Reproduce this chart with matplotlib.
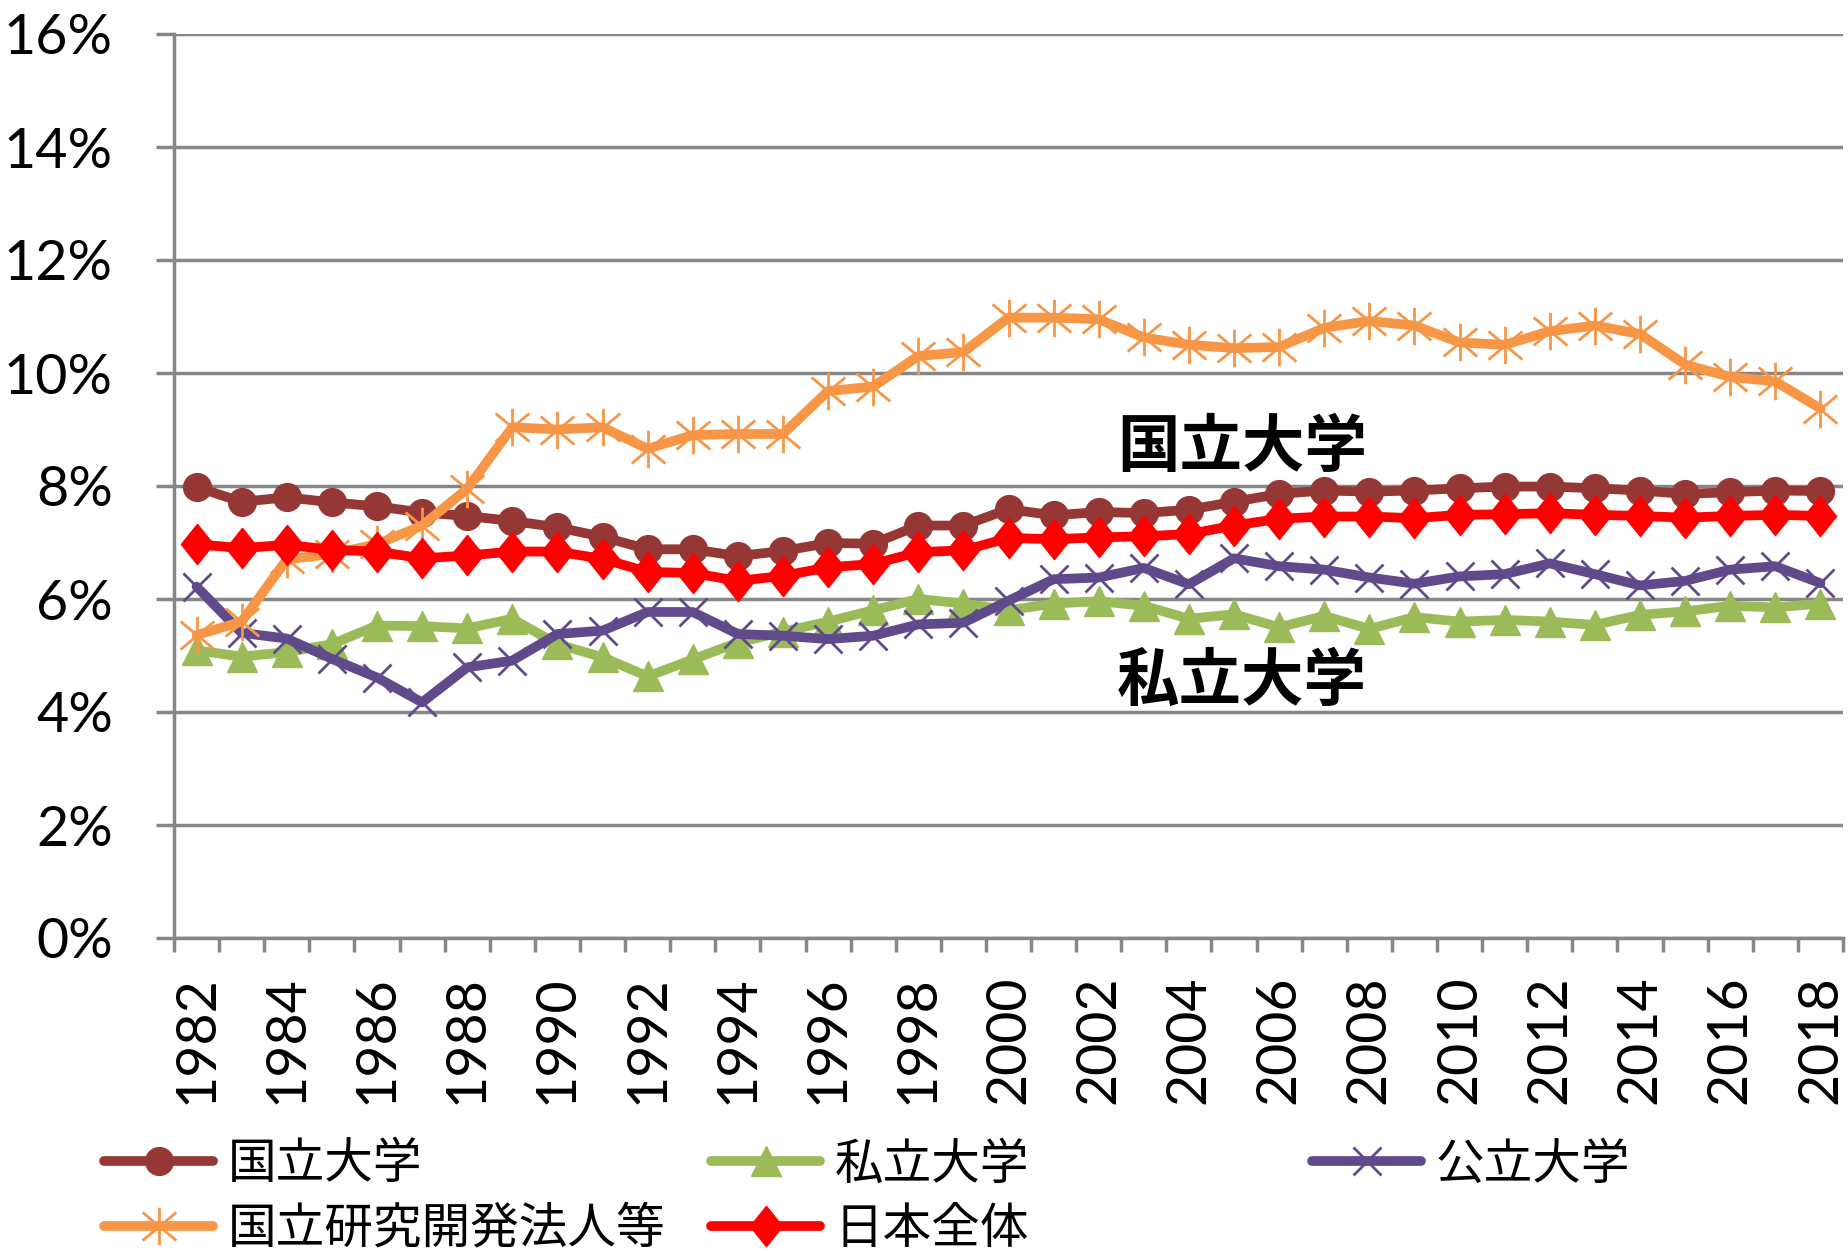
import numpy as np
import matplotlib
matplotlib.use('Agg')
import matplotlib.pyplot as plt
from matplotlib.path import Path

plt.rcParams['font.family'] = ['Lato', 'Noto Sans CJK JP', 'DejaVu Sans']

# data (percent)
years = list(range(1982, 2019))
national = [7.98, 7.72, 7.80, 7.71, 7.64, 7.53, 7.47, 7.38, 7.27, 7.10,
            6.88, 6.88, 6.76, 6.85, 6.99, 6.98, 7.30, 7.30, 7.59, 7.48,
            7.54, 7.52, 7.58, 7.72, 7.86, 7.92, 7.90, 7.92, 7.96, 7.99,
            7.99, 7.96, 7.92, 7.86, 7.89, 7.92, 7.91]
private = [5.09, 4.98, 5.06, 5.20, 5.53, 5.52, 5.48, 5.65, 5.20, 4.97,
           4.63, 4.93, 5.23, 5.42, 5.60, 5.80, 6.00, 5.92, 5.80, 5.92,
           5.96, 5.88, 5.65, 5.73, 5.50, 5.70, 5.47, 5.68, 5.60, 5.63,
           5.60, 5.54, 5.72, 5.78, 5.88, 5.85, 5.92]
public = [6.22, 5.40, 5.30, 4.94, 4.61, 4.17, 4.79, 4.91, 5.38, 5.44,
          5.77, 5.77, 5.38, 5.35, 5.29, 5.35, 5.55, 5.58, 5.97, 6.35,
          6.38, 6.55, 6.26, 6.72, 6.58, 6.52, 6.38, 6.27, 6.40, 6.44,
          6.63, 6.44, 6.24, 6.32, 6.52, 6.58, 6.28]
research = [5.36, 5.60, 6.70, 6.80, 6.97, 7.30, 7.95, 9.04, 9.00, 9.04,
            8.66, 8.90, 8.92, 8.92, 9.68, 9.76, 10.30, 10.37, 10.98, 10.98,
            10.95, 10.63, 10.50, 10.44, 10.46, 10.80, 10.92, 10.84, 10.54, 10.50,
            10.74, 10.84, 10.69, 10.15, 9.93, 9.85, 9.37]
japan = [6.97, 6.90, 6.96, 6.87, 6.84, 6.72, 6.77, 6.84, 6.84, 6.71,
         6.48, 6.46, 6.32, 6.41, 6.56, 6.62, 6.83, 6.86, 7.08, 7.06,
         7.09, 7.11, 7.15, 7.30, 7.42, 7.46, 7.46, 7.43, 7.49, 7.50,
         7.52, 7.49, 7.47, 7.44, 7.47, 7.49, 7.47]
yticks = [0, 2, 4, 6, 8, 10, 12, 14, 16]

grey = '#868686'
diamond = [(0, 1), (0.8, 0), (0, -1), (-0.8, 0), (0, 1)]
# Excel style star: vertical bar plus an X
star = Path([(0, -1), (0, 1), (-0.9, -0.75), (0.9, 0.75), (-0.9, 0.75), (0.9, -0.75)],
            [Path.MOVETO, Path.LINETO] * 3)

# series styles, drawn in Excel's order
styles = [
    ('国立大学', national, dict(color='#953735', marker='o', markersize=20)),
    ('私立大学', private, dict(color='#9BBB59', marker='^', markersize=21)),
    ('公立大学', public, dict(color='#5F4A8B', marker='x', markersize=20, markeredgewidth=2)),
    ('国立研究開発法人等', research, dict(color='#F79646', marker=star, markersize=27, markeredgewidth=2)),
    ('日本全体', japan, dict(color='#FF0000', marker=diamond, markersize=29)),
]

fig = plt.figure(figsize=(18.49, 12.52), dpi=100)
ax = fig.add_axes([174 / 1849, 1 - 938 / 1252, (1843 - 174) / 1849, (938 - 34) / 1252])

handles = {}
for name, vals, st in styles:
    line, = ax.plot(years, vals, linewidth=7, solid_joinstyle='round',
                    solid_capstyle='round', **st)
    handles[name] = line

ax.set_xlim(1981.5, 2018.5)
ax.set_ylim(0, 16)
ax.set_yticks(yticks)
ax.set_yticklabels([f'{v}%' for v in yticks])
ax.yaxis.grid(True, color=grey, linewidth=2.5)
ax.set_axisbelow(True)

# tick marks between categories, labels on every other year
ax.set_xticks(np.arange(1981.5, 2019, 1.0))
ax.set_xticklabels([])
ax.set_xticks(years[::2], minor=True)
ax.set_xticklabels([str(y) for y in years[::2]], minor=True, rotation=90)
ax.tick_params(axis='x', which='major', length=10, width=2.5, color=grey)
ax.tick_params(axis='x', which='minor', length=0, pad=27, labelsize=40)
ax.tick_params(axis='y', length=13, width=2.5, color=grey, pad=31, labelsize=40)

for s in ['top', 'right']:
    ax.spines[s].set_visible(False)
for s in ['left', 'bottom']:
    ax.spines[s].set_color(grey)
    ax.spines[s].set_linewidth(2.5)

ax.text(2002.4, 8.68, '国立大学', fontsize=45, fontweight='bold',
        family='Noto Sans CJK JP', va='center', ha='left')
ax.text(2002.4, 4.55, '私立大学', fontsize=45, fontweight='bold',
        family='Noto Sans CJK JP', va='center', ha='left')

# legend laid out in three columns like the Excel original
cols = [(['国立大学', '国立研究開発法人等'], 104),
        (['私立大学', '日本全体'], 711),
        (['公立大学'], 1312)]
for names, x0 in cols:
    leg = fig.legend([handles[n] for n in names], names, loc='upper left',
                     bbox_to_anchor=(x0 / 1849, 1 - 1140 / 1252),
                     frameon=False, borderpad=0, borderaxespad=0,
                     handlelength=2.25, handletextpad=0.3, labelspacing=0.3,
                     prop={'family': 'Noto Sans CJK JP', 'size': 35})

fig.savefig('out.png', dpi=100)
